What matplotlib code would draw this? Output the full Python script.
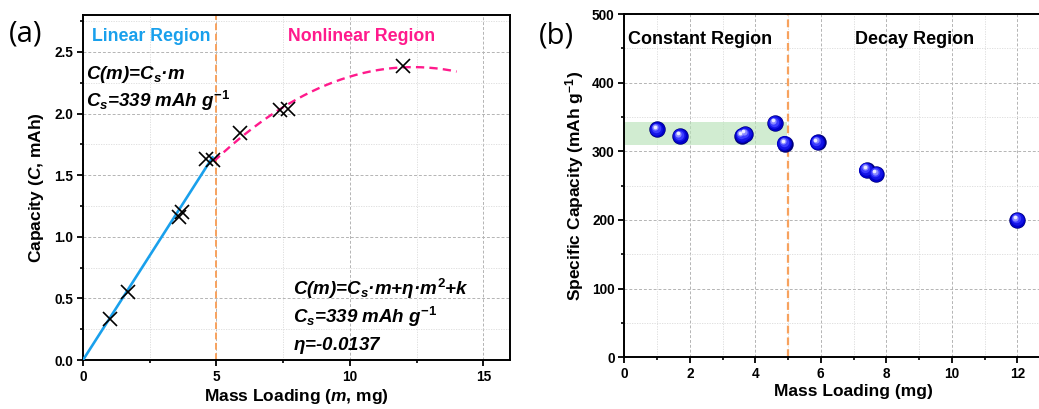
import numpy as np
import matplotlib
matplotlib.use("Agg")
import matplotlib.pyplot as plt
from matplotlib.transforms import offset_copy
from matplotlib.ticker import MultipleLocator, FixedLocator, FormatStrFormatter

plt.rcParams['font.family'] = ['Liberation Sans', 'DejaVu Sans']
plt.rcParams['font.weight'] = 'bold'
plt.rcParams['mathtext.fontset'] = 'custom'
plt.rcParams['mathtext.rm'] = 'Liberation Sans:bold'
plt.rcParams['mathtext.it'] = 'Liberation Sans:italic:bold'
plt.rcParams['mathtext.bf'] = 'Liberation Sans:bold'
plt.rcParams['axes.linewidth'] = 1.4

# ---- panel (a): capacity vs. mass loading ----
mass_a = [1.0, 1.7, 3.6, 3.7, 4.62, 4.88, 5.9, 7.4, 7.7, 12.0]
capacity_a = [0.33, 0.55, 1.16, 1.20, 1.63, 1.62, 1.84, 2.03, 2.04, 2.39]

# fit parameters (mAh per mg, mAh per mg^2, mAh)
cs_fit = 0.339
eta_fit = -0.0137
k_fit = 0.28
linear_range = (0.0, 4.85)
nonlinear_range = (4.9, 14.0)

# ---- panel (b): specific capacity vs. mass loading ----
mass_b = [1.0, 1.7, 3.6, 3.7, 4.6, 4.9, 5.9, 7.4, 7.7, 12.0]
spec_cap_b = [332, 322, 323, 325, 341, 311, 313, 273, 267, 200]
band_b = (309, 342)
band_x = (0.0, 4.98)
xticks_b = [0, 2, 4, 6, 8, 10, 12]

boundary = 5.0

blue_line = '#19A0EC'
pink = '#FF1A8C'
orange = '#F7A25E'

fig = plt.figure(figsize=(10.39, 4.09), dpi=100)

def style_axes(ax):
    ax.tick_params(which='major', direction='out', length=4, width=1.3,
                   labelsize=9.8, pad=3)
    ax.tick_params(which='minor', direction='out', length=2.5, width=1.2)
    for lab in ax.get_xticklabels() + ax.get_yticklabels():
        lab.set_fontweight('bold')
    ax.grid(which='major', color='#b4b4b4', linestyle=(0, (3, 2)), linewidth=0.7)
    ax.grid(which='minor', color='#dadada', linestyle=(0, (1.5, 1.5)), linewidth=0.6)
    ax.set_axisbelow(True)

# panel (a)
ax1 = fig.add_axes([83 / 1039, 1 - 360 / 409, 427 / 1039, 345 / 409])
ax1.set_xlim(0, 16)
ax1.set_ylim(0, 2.8)
ax1.xaxis.set_major_locator(MultipleLocator(5))
ax1.xaxis.set_minor_locator(MultipleLocator(2.5))
ax1.yaxis.set_major_locator(MultipleLocator(0.5))
ax1.yaxis.set_minor_locator(MultipleLocator(0.25))
ax1.yaxis.set_major_formatter(FormatStrFormatter('%.1f'))
style_axes(ax1)

m_lin = np.linspace(*linear_range, 50)
ax1.plot(m_lin, cs_fit * m_lin, color=blue_line, lw=1.9, zorder=3)
m_non = np.linspace(*nonlinear_range, 200)
ax1.plot(m_non, cs_fit * m_non + eta_fit * m_non ** 2 + k_fit, color=pink,
         lw=1.7, linestyle=(0, (3.5, 2.2)), zorder=3)
ax1.axvline(boundary, color=orange, lw=1.4, linestyle=(0, (3.5, 1.8)), zorder=2)
ax1.plot(mass_a, capacity_a, linestyle='none', marker='x', color='black',
         markersize=9.5, markeredgewidth=1.2, zorder=4)

ax1.set_xlabel('Mass Loading ($m$, mg)', fontsize=12.5, fontweight='bold', labelpad=2)
ax1.set_ylabel('Capacity ($C$, mAh)', fontsize=12.5, fontweight='bold', labelpad=6)

ax1.text(0.33, 2.59, 'Linear Region', color=blue_line, fontsize=12.8,
         fontweight='bold', va='baseline')
ax1.text(7.67, 2.59, 'Nonlinear Region', color=pink, fontsize=12.8,
         fontweight='bold', va='baseline')

ftxt = dict(fontsize=13.5, fontweight='bold', fontstyle='italic', va='baseline')
ax1.text(0.12, 2.28, r'$C$($m$)=$C_s$·$m$', **ftxt)
ax1.text(0.12, 2.05, r'$C_s$=339 mAh $g^{\mathit{-1}}$', **ftxt)
ax1.text(7.86, 0.53, r'$C$($m$)=$C_s$·$m$+$\eta$·$m^2$+$k$', **ftxt)
ax1.text(7.86, 0.30, r'$C_s$=339 mAh $g^{\mathit{-1}}$', **ftxt)
ax1.text(7.86, 0.08, r'$\eta$=-0.0137', **ftxt)

fig.text(9 / 1039, 1 - 42 / 409, '(a)', fontsize=21, fontweight='medium',
         family=['Open Sans', 'DejaVu Sans'])

# panel (b)
x_px = 32.75
ax2 = fig.add_axes([624.3 / 1039, 1 - 357.3 / 409, 14 * x_px / 1039, 343.3 / 409])
ax2.set_xlim(0, 14)
ax2.set_ylim(0, 500)
ax2.xaxis.set_major_locator(FixedLocator(xticks_b))
ax2.xaxis.set_minor_locator(FixedLocator([1, 3, 5, 7, 9, 11, 13]))
ax2.yaxis.set_major_locator(MultipleLocator(100))
ax2.yaxis.set_minor_locator(MultipleLocator(50))
style_axes(ax2)

ax2.fill_between(band_x, band_b[0], band_b[1], color='#b9e3b9', alpha=0.65,
                 linewidth=0, zorder=1)
ax2.axvline(boundary, color=orange, lw=1.6, linestyle=(0, (3.5, 1.8)), zorder=2)

# shaded spheres: dark base plus lighter layers shifted toward the upper left
layers = [
    (140, '#00007a', (0, 0)),
    (118, '#0000c8', (-0.2, 0.2)),
    (82, '#1414e6', (-0.5, 0.6)),
    (46, '#3c3cff', (-0.9, 1.1)),
    (20, '#8a8aff', (-1.3, 1.7)),
    (7, '#ececff', (-1.5, 2.0)),
]
for size, col, (dx, dy) in layers:
    tr = offset_copy(ax2.transData, fig=fig, x=dx, y=dy, units='points')
    ax2.scatter(mass_b, spec_cap_b, s=size, color=col, linewidths=0,
                transform=tr, zorder=5, clip_on=False)

ax2.set_xlabel('Mass Loading (mg)', fontsize=12.5, fontweight='bold', labelpad=2)
ax2.set_ylabel('Specific Capacity (mAh g$^{-1}$)', fontsize=12.5,
               fontweight='bold', labelpad=4)

ax2.text(0.12, 456, 'Constant Region', fontsize=13, fontweight='bold', va='baseline')
ax2.text(7.03, 456, 'Decay Region', fontsize=13, fontweight='bold', va='baseline')

fig.text(539 / 1039, 1 - 44 / 409, '(b)', fontsize=21, fontweight='medium',
         family=['Open Sans', 'DejaVu Sans'])

fig.savefig('out.png', dpi=100)
